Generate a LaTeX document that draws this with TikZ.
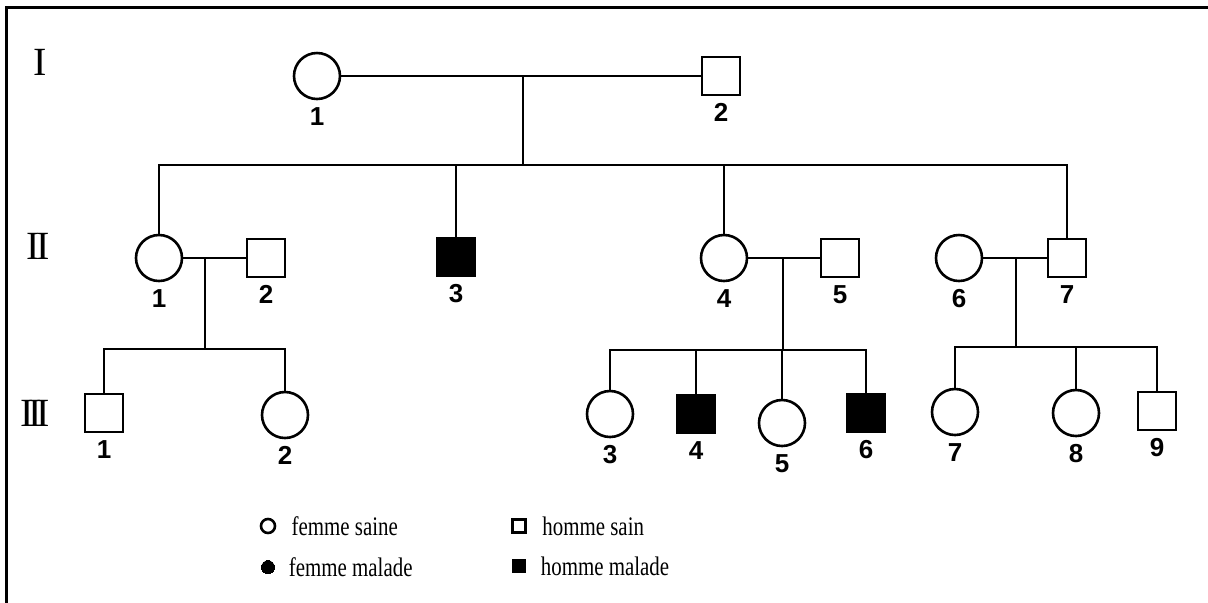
\documentclass[tikz,border=0pt]{standalone}
\usepackage{fontspec}
\setmainfont{Liberation Serif}
\setsansfont{Liberation Sans}
\newfontfamily\legendfont[FakeStretch=0.78]{Liberation Serif}
\usetikzlibrary{positioning}

\newcommand{\chiffre}{\sffamily\bfseries\fontsize{13}{13}\selectfont}
\newcommand{\genfont}{\rmfamily\fontsize{20}{20}\selectfont}

\begin{document}
\begin{tikzpicture}[x=0.5pt,y=-0.5pt,
  fem/.style={circle,draw,line width=1.3pt,minimum size=23pt,inner sep=0pt},
  hom/.style={rectangle,draw,line width=1.3pt,minimum size=19pt,inner sep=0pt},
  malade/.style={fill=black},
  num/.style={label={[label distance=0pt,font=\chiffre]below:#1}},
  lien/.style={line width=1pt},
  gen/.style={font=\genfont,inner sep=0pt},
  legende/.style={font=\legendfont\fontsize{13.4}{15}\selectfont,inner sep=0pt}
]
\useasboundingbox (0,0) rectangle (1208,602);

% Cadre
\draw[line width=1.5pt] (6,610) -- (6,7) -- (1216,7);

% Generations
\node[gen] (gI) at (40,62) {I};
\node[gen] (gII) at (38,246) {I\kern-1.5pt I};
\node[gen] (gIII) at (35,413) {I\kern-2.5pt I\kern-2.5pt I};

% Generation I
\node[fem,num=1] (I1) at (317,76) {};
\node[hom,num=2] (I2) at (721,76) {};
\coordinate (m1) at (523,76);
\coordinate (s1) at (523,165);
\draw[lien] (I1) -- (I2);
\draw[lien] (m1) -- (s1);

% Generation II
\node[fem,num=1] (II1) at (159,258) {};
\node[hom,num=2] (II2) at (266,258) {};
\node[hom,malade,num=3] (II3) at (456,257) {};
\node[fem,num=4] (II4) at (724,258) {};
\node[hom,num=5] (II5) at (840,258) {};
\node[fem,num=6] (II6) at (959,258) {};
\node[hom,num=7] (II7) at (1067,258) {};
\draw[lien] (II1) |- (s1) -| (II7);
\draw[lien] (II3) -- (II3 |- s1);
\draw[lien] (II4) -- (II4 |- s1);
\draw[lien] (II1) -- (II2);
\draw[lien] (II4) -- (II5);
\draw[lien] (II6) -- (II7);

% Generation III, famille II-1 x II-2
\coordinate (m2) at (205,258);
\coordinate (s2) at (205,349);
\node[hom,num=1] (III1) at (104,413) {};
\node[fem,num=2] (III2) at (285,415) {};
\draw[lien] (m2) -- (s2);
\draw[lien] (III1) |- (s2) -| (III2);

% Generation III, famille II-4 x II-5
\coordinate (m3) at (783,258);
\coordinate (s3) at (783,350);
\node[fem,num=3] (III3) at (610,414) {};
\node[hom,malade,num=4] (III4) at (696,414) {};
\node[fem,num=5] (III5) at (782,423) {};
\node[hom,malade,num=6] (III6) at (866,413) {};
\draw[lien] (m3) -- (s3);
\draw[lien] (III3) |- (s3) -| (III6);
\draw[lien] (III4) -- (III4 |- s3);
\draw[lien] (III5) -- (III5 |- s3);

% Generation III, famille II-6 x II-7
\coordinate (m4) at (1016,258);
\coordinate (s4) at (1016,347);
\node[fem,num=7] (III7) at (955,412) {};
\node[fem,num=8] (III8) at (1076,413) {};
\node[hom,num=9] (III9) at (1157,411) {};
\draw[lien] (m4) -- (s4);
\draw[lien] (III7) |- (s4) -| (III9);
\draw[lien] (III8) -- (III8 |- s4);

% Legende
\node[fem,minimum size=7pt,line width=1.3pt] (lfs) at (268,526) {};
\node[legende,right=7.5pt of lfs] (tfs) {femme saine};
\node[fem,malade,minimum size=6.5pt,line width=0pt] (lfm) at (268,567) {};
\node[legende,right=7pt of lfm] (tfm) {femme malade};
\node[hom,minimum size=6.5pt,line width=1.1pt] (lhs) at (519,526) {};
\node[legende,right=7.7pt of lhs] (ths) {homme sain};
\node[hom,malade,minimum size=6.5pt,line width=0pt] (lhm) at (519,566) {};
\node[legende,right=7.5pt of lhm] (thm) {homme malade};

\end{tikzpicture}
\end{document}
